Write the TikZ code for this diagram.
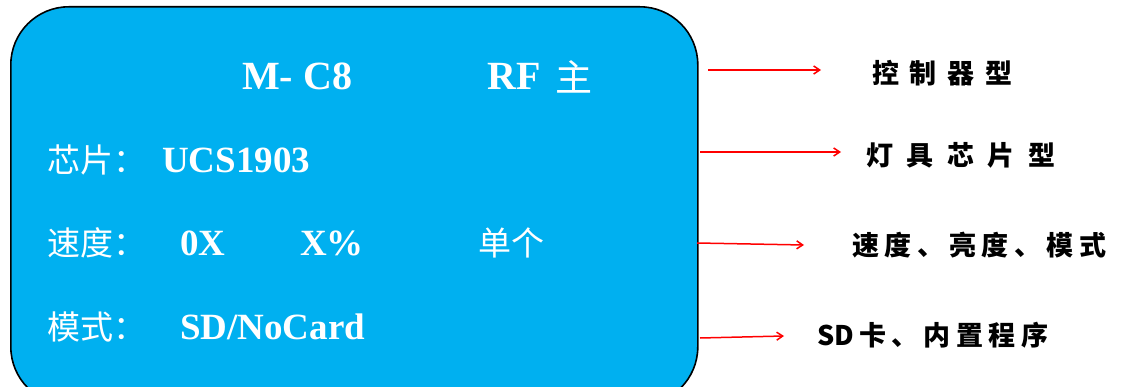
\documentclass[tikz,border=0pt]{standalone}
\usepackage{fontspec}
\setmainfont{Liberation Serif}
\newfontfamily\cjk{Noto Sans CJK SC}
\usetikzlibrary{arrows.meta}
\definecolor{boxblue}{RGB}{0,176,240}
\definecolor{arrred}{RGB}{255,0,0}
\tikzset{
  panel/.style={draw=black, line width=1.6pt, fill=boxblue, rounded corners=58pt, minimum width=687pt, minimum height=398pt, anchor=north west, inner sep=0pt},
  wt/.style={text=white, font=\fontsize{37}{40}\selectfont\bfseries, inner sep=0pt, anchor=west},
  wtt/.style={wt, font=\fontsize{40}{44}\selectfont\bfseries},
  wc/.style={text=white, font=\cjk\fontsize{33}{36}\selectfont, inner sep=0pt, anchor=west},
  lab/.style={text=black, font=\cjk\bfseries\fontsize{27}{30}\selectfont, inner sep=0pt, anchor=west},
  redarrow/.style={draw=arrred, line width=1.5pt, -{Straight Barb[length=6pt,width=8pt]}},
}
\begin{document}
\begin{tikzpicture}[x=1pt,y=-1pt]
\useasboundingbox (0,0) rectangle (1124,387);
\node[panel] (box) at (10,6) {};
% title row
\node[wtt] (model) at (242,76) {M- C8};
\node[wtt] (rf) at (487,76) {RF};
\node[wc, font=\cjk\fontsize{37}{40}\selectfont] (zhu) at (555,77) {主};
% row 1
\node[wc] (chipk) at (47,160) {芯片：};
\node[wt] (chipv) at (162,160) {UCS1903};
% row 2
\node[wc] (speedk) at (47,243) {速度：};
\node[wt] (speedv) at (180,243) {0X};
\node[wt] (bright) at (300,243) {X\%};
\node[wc] (single) at (478,243) {单个};
% row 3
\node[wc] (modek) at (47,327) {模式：};
\node[wt] (modev) at (180,327) {SD/NoCard};
% right labels
\node[lab] (l1) at (872,73) {\addfontfeature{LetterSpace=40}控制器型};
\node[lab] (l2) at (866,155) {\addfontfeature{LetterSpace=50}灯具芯片型};
\node[lab] (l3) at (852,245) {\addfontfeature{LetterSpace=20}速度、亮度、模式};
\node[lab] (l4) at (817,335) {SD\hspace{5pt}\addfontfeature{LetterSpace=20}卡、内置程序};
% arrow coordinates
\coordinate (s1) at (708,70);  \coordinate (e1) at (821,70);
\coordinate (s2) at (700,152); \coordinate (e2) at (841,152);
\coordinate (s3) at (697,243); \coordinate (e3) at (804,245);
\coordinate (s4) at (700,338); \coordinate (e4) at (784,336);
\draw[redarrow] (s1) -- (e1);
\draw[redarrow] (s2) -- (e2);
\draw[redarrow] (s3) -- (e3);
\draw[redarrow] (s4) -- (e4);
\end{tikzpicture}
\end{document}
